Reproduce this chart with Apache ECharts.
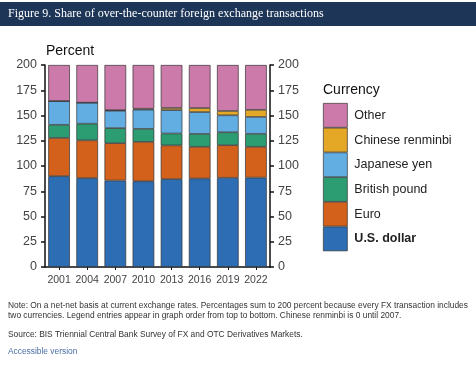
<!DOCTYPE html>
<html><head><meta charset="utf-8">
<script src="https://cdn.jsdelivr.net/npm/echarts@6/dist/echarts.min.js"></script>
<style>html,body{margin:0;padding:0;background:#fff}#c{width:476px;height:368px}</style>
</head><body><div id="c"></div>
<script>
const years = ['2001','2004','2007','2010','2013','2016','2019','2022'];
const usd   = [89.9, 88.0, 85.6, 84.9, 87.0, 87.6, 88.3, 88.5];
const eur   = [37.9, 37.4, 37.0, 39.0, 33.4, 31.4, 32.3, 30.5];
const gbp   = [13.0, 16.5, 14.9, 12.9, 11.8, 12.8, 12.8, 12.9];
const jpy   = [23.5, 20.8, 17.2, 19.0, 23.1, 21.6, 16.8, 16.7];
const cny   = [0.0, 0.0, 0.5, 0.9, 2.2, 4.0, 4.3, 7.0];
const other = [35.7, 37.3, 44.8, 43.3, 42.5, 42.6, 45.5, 44.4];
const yTicks = [0, 25, 50, 75, 100, 125, 150, 175, 200];

const names = ['U.S. dollar','Euro','British pound','Japanese yen','Chinese renminbi','Other'];
const colors = ['#2D6DB4','#D3611C','#2C9C72','#62AEE3','#E4A726','#CC7AA9'];
const values = [usd, eur, gbp, jpy, cny, other];

const chart = echarts.init(document.getElementById('c'));
const axisCommon = {
  type:'value', min:yTicks[0], max:yTicks[yTicks.length-1], interval:25,
  axisLine:{show:true, lineStyle:{color:'#111', width:1.5}},
  axisTick:{show:true, length:4, lineStyle:{color:'#111', width:1.5}},
  splitLine:{show:false},
  axisLabel:{fontFamily:'Liberation Sans', fontSize:12.5, color:'#444', margin:8}
};
chart.setOption({
  animation:false,
  backgroundColor:'#fff',
  grid:{left:45, right:206, top:65, bottom:101, containLabel:false},
  xAxis:{type:'category', data:years,
    axisLine:{lineStyle:{color:'#111', width:1.5}},
    axisTick:{show:true, alignWithLabel:true, length:3, lineStyle:{color:'#111'}},
    axisLabel:{fontFamily:'Liberation Sans', fontSize:10.5, color:'#444', margin:8, interval:0}},
  yAxis:[Object.assign({position:'left'}, axisCommon),
         Object.assign({position:'right'}, axisCommon)],
  legend:{orient:'vertical', left:323, top:103, padding:0, itemWidth:24, itemHeight:24, itemGap:0,
    icon:'rect',
    itemStyle:{borderWidth:0.7, borderColor:'#333'},
    data:names.slice().reverse(),
    textStyle:{fontFamily:'Liberation Sans', fontSize:12.5, color:'#222', padding:[0,0,0,2],
      rich:{b:{fontWeight:'bold', fontFamily:'Liberation Sans', fontSize:12.5, color:'#222'}}},
    formatter:n => n==='U.S. dollar' ? '{b|'+n+'}' : n,
    selectedMode:false},
  series: names.map((n,i)=>({
    name:n, type:'bar', stack:'s', data:values[i], barCategoryGap:'23%',
    itemStyle:{color:colors[i], borderColor:'#333', borderWidth:0.7}
  })),
  graphic:[
    {type:'rect', left:0, top:2, shape:{width:476, height:24}, style:{fill:'#1D3658'}},
    {type:'text', left:8, top:8, style:{text:'Figure 9. Share of over-the-counter foreign exchange transactions',
      fill:'#fff', font:'12px "Liberation Serif"'}},
    {type:'text', left:46, top:44, style:{text:'Percent', fill:'#111', font:'14px "Liberation Sans"'}},
    {type:'text', left:323, top:83, style:{text:'Currency', fill:'#111', font:'14px "Liberation Sans"'}},
    {type:'text', left:8, top:300, style:{text:'Note: On a net-net basis at current exchange rates. Percentages sum to 200 percent because every FX transaction includes\ntwo currencies. Legend entries appear in graph order from top to bottom. Chinese renminbi is 0 until 2007.',
      fill:'#333', font:'8.4px "Liberation Sans"', lineHeight:10.5}},
    {type:'text', left:8, top:331, style:{text:'Source: BIS Triennial Central Bank Survey of FX and OTC Derivatives Markets.',
      fill:'#333', font:'8.4px "Liberation Sans"'}},
    {type:'text', left:8, top:348, style:{text:'Accessible version', fill:'#4A6FA5', font:'8.4px "Liberation Sans"'}}
  ]
});
</script></body></html>
